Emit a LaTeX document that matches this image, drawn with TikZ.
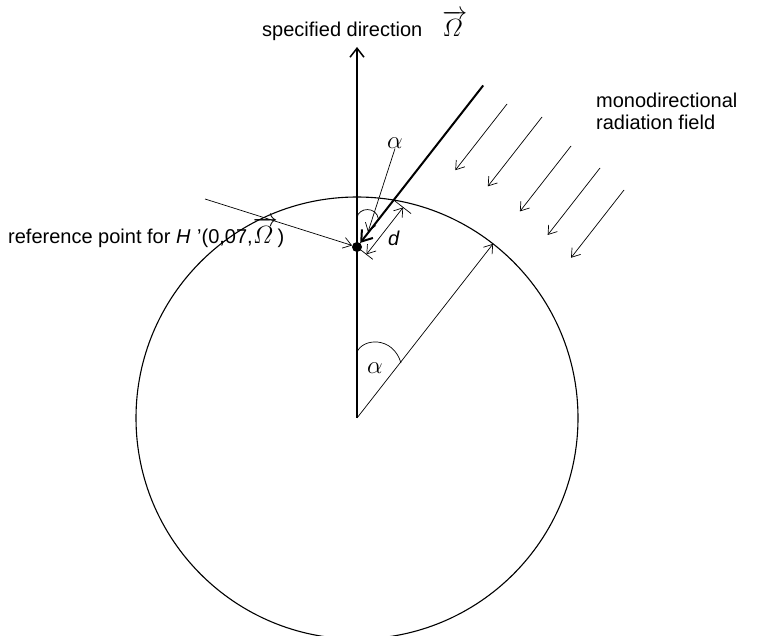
\documentclass[tikz,border=0pt]{standalone}
\usepackage{amsmath}
\usepackage{fontspec}
\setmainfont{Liberation Sans}
\usetikzlibrary{arrows.meta,calc}
\newcommand{\vecOm}{{\fontsize{24}{28}\selectfont$\overrightarrow{\varOmega\,}$}}
\begin{document}
\begin{tikzpicture}[x=1pt,y=1pt,
  lbl/.style={font=\fontsize{20}{24}\selectfont, inner sep=0pt},
  alab/.style={font=\fontsize{24}{28}\selectfont, inner sep=0pt},
  barb/.style={-{Straight Barb[length=8pt,width=11pt]}},
  dbarb/.style={{Straight Barb[length=8pt,width=11pt]}-{Straight Barb[length=8pt,width=11pt]}},
  thinl/.style={line width=0.7pt},
  midl/.style={line width=1.1pt},
  thickl/.style={line width=2pt}]
\useasboundingbox (0,0) rectangle (760,635);
% main geometry
\coordinate (C) at (357,217);
\coordinate (Top) at (357,588);
\node[circle,fill,inner sep=0pt,minimum size=10pt] (D) at (357,388) {};
\coordinate (T) at ($(D)+(52:205pt)$);
\coordinate (P) at ($(D)+(52:59.6pt)$);
\coordinate (R) at ($(C)+(52:221pt)$);
\draw[midl] (C) circle[radius=221];
\draw[midl,-{Straight Barb[length=9pt,width=14pt,line width=1.5pt]}] (C) -- (Top);
\draw[thickl,-{Straight Barb[length=10pt,width=14pt]}] (T) -- (D);
\draw[thinl,barb] (C) -- (R);
% field arrows
\coordinate (f1s) at (507,531); \coordinate (f1e) at ($(f1s)+(232:84pt)$);
\coordinate (f2s) at (542,518); \coordinate (f2e) at ($(f2s)+(232:88pt)$);
\coordinate (f3s) at (571,489); \coordinate (f3e) at ($(f3s)+(232:83pt)$);
\coordinate (f4s) at (600,467); \coordinate (f4e) at ($(f4s)+(232:85pt)$);
\coordinate (f5s) at (624,445); \coordinate (f5e) at ($(f5s)+(232:86pt)$);
\foreach \i in {1,...,5} {\draw[thinl,barb] (f\i s) -- (f\i e);}
% dimension d
\coordinate (dA) at ($(D)+(-38:12pt)$);
\coordinate (dB) at ($(P)+(-38:12pt)$);
\coordinate (eA) at ($(D)+(-38:20pt)$);
\coordinate (eB) at ($(P)+(-38:22pt)$);
\draw[thinl] (D.center) -- (eA);
\draw[thinl] (P) -- (eB);
\draw[thinl,dbarb] (dA) -- (dB);
\node[lbl] (dlab) at (394,397) {\textit{d}};
% small angle at D
\draw[thinl] (357,417) .. controls (358,428) and (377,429) .. (378.5,415.5);
\node[alab] (a1) at (395,492) {$\alpha$};
\coordinate (a1t) at (368,403);
\draw[thinl,barb] (a1.south) -- (a1t);
% angle at centre
\draw[thinl] (357,283) .. controls (363,297) and (393,299) .. (401,272);
\node[alab] (a2) at (375,267) {$\alpha$};
% texts
\node[lbl,anchor=base west] (spec) at (262,598) {specified direction\hspace{20pt}\vecOm};
\node[lbl,anchor=base west] (ref) at (8,391) {reference point for \textit{H}\,\,'(0,07,\vecOm)};
\coordinate (refs) at (205,436);
\draw[thinl,barb] (refs) -- (D);
\node[lbl,anchor=base west] (mono) at (596,527) {monodirectional};
\node[lbl,anchor=base west] (rad) at (596,505) {radiation field};
\end{tikzpicture}
\end{document}
